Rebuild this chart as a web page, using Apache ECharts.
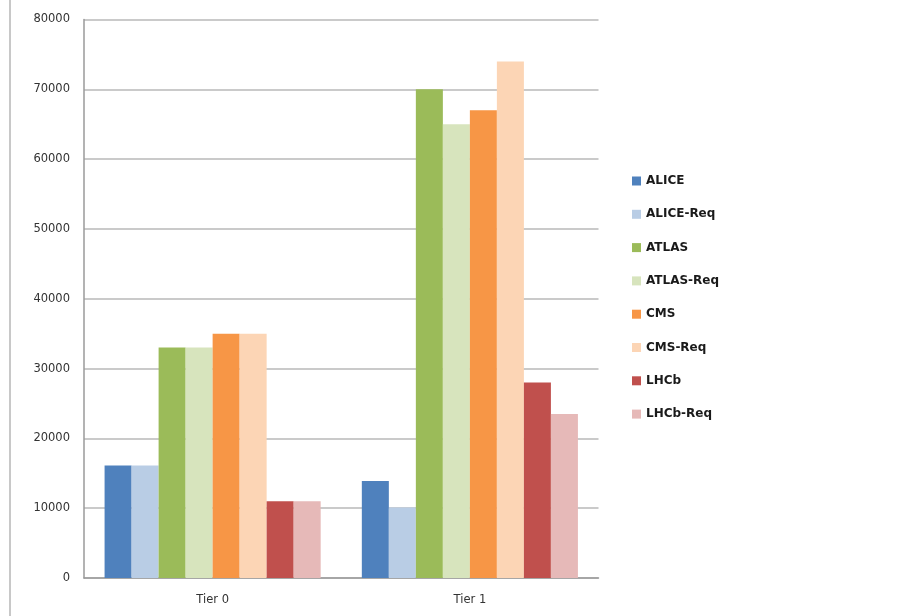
<!DOCTYPE html>
<html>
<head>
<meta charset="utf-8">
<script src="https://cdn.jsdelivr.net/npm/echarts@6/dist/echarts.min.js"></script>
<style>
html,body{margin:0;padding:0;background:#fff;}
#main{width:903px;height:616px;}
</style>
</head>
<body>
<div id="main"></div>
<script>
const categories = ['Tier 0', 'Tier 1'];
const seriesNames = ['ALICE', 'ALICE-Req', 'ATLAS', 'ATLAS-Req', 'CMS', 'CMS-Req', 'LHCb', 'LHCb-Req'];
const aliceValues = [16100, 13900];
const aliceReqValues = [16100, 10100];
const atlasValues = [33000, 70000];
const atlasReqValues = [33000, 65000];
const cmsValues = [35000, 67000];
const cmsReqValues = [35000, 74000];
const lhcbValues = [11000, 28000];
const lhcbReqValues = [11000, 23500];
const colors = ['#4F81BD', '#B9CDE5', '#9BBB59', '#D7E4BD', '#F79646', '#FCD5B5', '#C0504D', '#E6B9B8'];

const allValues = [aliceValues, aliceReqValues, atlasValues, atlasReqValues, cmsValues, cmsReqValues, lhcbValues, lhcbReqValues];

const chart = echarts.init(document.getElementById('main'), null, {renderer: 'canvas'});
chart.setOption({
  animation: false,
  backgroundColor: '#ffffff',
  color: colors,
  graphic: [{
    type: 'rect',
    shape: {x: 9, y: 0, width: 2, height: 616},
    style: {fill: '#c8c8c8'}
  }],
  grid: {left: 84, right: 304.5, top: 19.5, bottom: 38, containLabel: false},
  legend: {
    orient: 'vertical',
    left: 627,
    top: 169,
    itemWidth: 9,
    itemHeight: 9,
    itemGap: 19.3,
    icon: 'rect',
    data: seriesNames,
    textStyle: {fontFamily: 'DejaVu Sans', fontWeight: 'bold', fontSize: 12, color: '#1a1a1a', lineHeight: 14}
  },
  xAxis: {
    type: 'category',
    data: categories,
    axisLine: {lineStyle: {color: '#9a9a9a', width: 1.5}},
    axisTick: {show: false},
    axisLabel: {fontFamily: 'DejaVu Sans', fontSize: 11.5, color: '#333', margin: 16}
  },
  yAxis: {
    type: 'value',
    min: 0,
    max: 80000,
    interval: 10000,
    axisLine: {show: true, lineStyle: {color: '#9a9a9a', width: 1.5}},
    axisTick: {show: false},
    splitLine: {lineStyle: {color: '#b8b8b8', width: 1.5}},
    axisLabel: {fontFamily: 'DejaVu Sans', fontSize: 11.5, color: '#333', margin: 14, formatter: (v) => String(v)}
  },
  series: seriesNames.map((name, i) => ({
    name: name,
    type: 'bar',
    data: allValues[i],
    barGap: '0%',
    barCategoryGap: '16%',
    itemStyle: {color: colors[i]}
  }))
});
</script>
</body>
</html>
